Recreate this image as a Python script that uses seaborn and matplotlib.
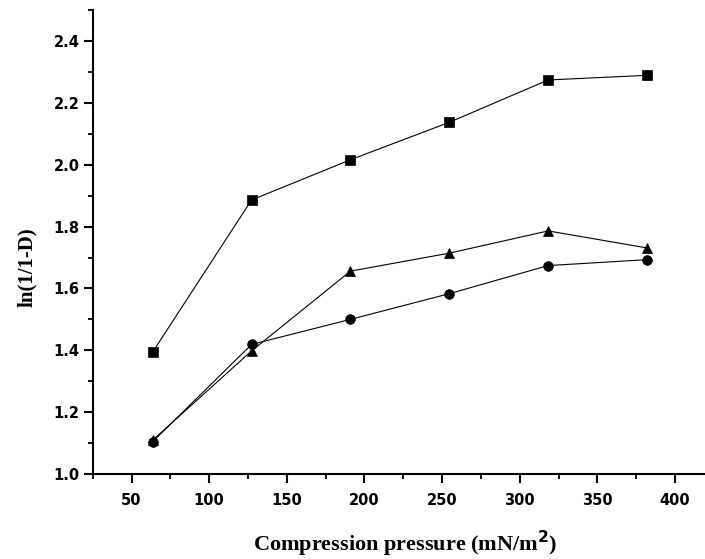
import matplotlib
matplotlib.use("Agg")
import matplotlib.pyplot as plt
from matplotlib.ticker import MultipleLocator
import seaborn as sns
import pandas as pd

pressure = [63.7, 127.3, 191.0, 254.6, 318.3, 381.9]
series_square = [1.395, 1.886, 2.016, 2.137, 2.274, 2.289]
series_circle = [1.105, 1.419, 1.500, 1.583, 1.674, 1.693]
series_triangle = [1.110, 1.398, 1.656, 1.714, 1.786, 1.731]
x_ticks = [50, 100, 150, 200, 250, 300, 350, 400]
y_ticks = [1.0, 1.2, 1.4, 1.6, 1.8, 2.0, 2.2, 2.4]

df = pd.concat([
    pd.DataFrame({"x": pressure, "y": series_square, "s": "square"}),
    pd.DataFrame({"x": pressure, "y": series_circle, "s": "circle"}),
    pd.DataFrame({"x": pressure, "y": series_triangle, "s": "triangle"}),
])

sns.set_style("ticks")
fig = plt.figure(figsize=(7.05, 5.59), dpi=100)
ax = fig.add_axes([0.1315, 0.152, 0.87, 0.83])

sns.lineplot(data=df, x="x", y="y", style="s",
             markers={"square": "s", "circle": "o", "triangle": "^"},
             dashes=False, color="black", linewidth=0.8, markersize=7,
             markeredgecolor="black", markeredgewidth=0.5,
             legend=False, ax=ax, sort=False)

ax.set_xlim(25, 420)
ax.set_ylim(1.0, 2.5)
ax.xaxis.set_minor_locator(MultipleLocator(25))
ax.yaxis.set_minor_locator(MultipleLocator(0.1))
ax.set_xticks(x_ticks)
ax.set_yticks(y_ticks)
ax.set_xticklabels([str(v) for v in x_ticks])
ax.set_yticklabels([f"{v:.1f}" for v in y_ticks])

for sp in ["top", "right"]:
    ax.spines[sp].set_visible(False)
for sp in ["left", "bottom"]:
    ax.spines[sp].set_linewidth(1.5)
    ax.spines[sp].set_color("black")

ax.tick_params(which="major", direction="out", length=6.8, width=1.5, colors="black")
ax.tick_params(which="minor", direction="out", length=3.8, width=1.3, colors="black")
ax.tick_params(axis="x", which="major", pad=6.5)
ax.tick_params(axis="y", which="major", pad=2.5)

for lab in ax.get_xticklabels() + ax.get_yticklabels():
    lab.set_fontfamily("DejaVu Sans")
    lab.set_fontweight("bold")
    lab.set_fontsize(10.5)
    lab.set_color("black")

ax.set_xlabel("Compression pressure (mN/m$^{\\mathbf{2}}$)", fontfamily="Liberation Serif",
              fontweight="bold", fontsize=16, color="black")
ax.xaxis.set_label_coords(0.509, -0.117)
ax.set_ylabel("ln(1/1-D)", fontfamily="Liberation Serif", fontweight="bold",
              fontsize=15, color="black")
ax.yaxis.set_label_coords(-0.09, 0.446)

fig.savefig("out.png", dpi=100)
